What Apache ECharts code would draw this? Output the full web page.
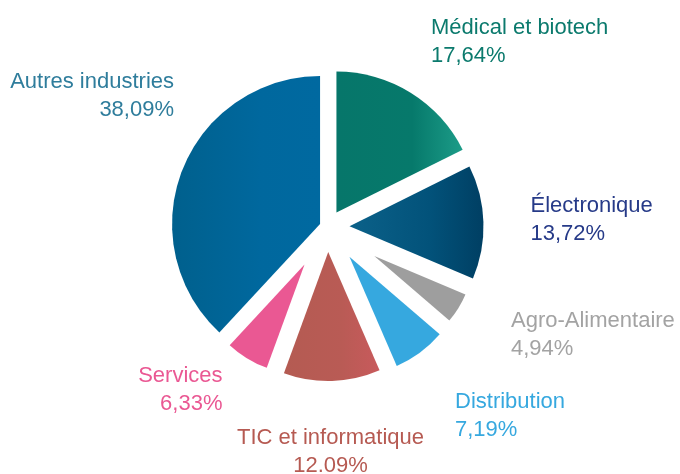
<!DOCTYPE html>
<html>
<head>
<meta charset="utf-8">
<script src="https://cdn.jsdelivr.net/npm/echarts@6/dist/echarts.min.js"></script>
<style>
  html, body { margin: 0; padding: 0; background: #fff; }
  #chart { width: 680px; height: 474px; }
</style>
</head>
<body>
<div id="chart"></div>
<script>
// secteurs, dans le sens horaire depuis midi
const categories = ['Médical et biotech', 'Électronique', 'Agro-Alimentaire', 'Distribution', 'TIC et informatique', 'Services', 'Autres industries']
const shares = [17.64, 13.72, 4.94, 7.19, 12.09, 6.33, 38.09]
const shareLabels = ['17,64%', '13,72%', '4,94%', '7,19%', '12.09%', '6,33%', '38,09%']

// style de chaque part (décalage, rayon, couleurs, place du libellé)
const center = [327.5, 227]
const offsets = [17, 22, 55, 37, 25, 44, 8]
const radii = [141, 134, 99, 119, 129, 110, 148]
const sliceColors = [
  ['#06766a', '#06796b', '#1c9c88'],
  ['#0b6189', '#02527a', '#003f63'],
  ['#9e9e9e', '#9e9e9e', '#9e9e9e'],
  ['#36a8df', '#36a8df', '#36a8df'],
  ['#b45b52', '#b95b55', '#c85a5c'],
  ['#ea5893', '#ea5893', '#ea5893'],
  ['#00608d', '#00689e', '#0069a0']
]
const labelColors = ['#0b7a6d', '#263a88', '#a3a3a3', '#36a8df', '#b65a52', '#ea5893', '#2f7d9c']
const labelPos = [
  { x: 431, y: 41.5, align: 'left' },
  { x: 530.5, y: 220, align: 'left' },
  { x: 511, y: 334.5, align: 'left' },
  { x: 455, y: 415.5, align: 'left' },
  { x: 330.5, y: 451.5, align: 'center' },
  { x: 222.5, y: 389.5, align: 'right' },
  { x: 174, y: 95.5, align: 'right' }
]

const total = shares.reduce((a, b) => a + b, 0)
let cum = 0
const series = shares.map((v, i) => {
  const mid = (cum + v / 2) / total * Math.PI * 2
  cum += v
  const c = sliceColors[i]
  return {
    type: 'pie',
    silent: true,
    animation: false,
    avoidLabelOverlap: false,
    startAngle: 90,
    clockwise: true,
    center: [center[0] + offsets[i] * Math.sin(mid), center[1] - offsets[i] * Math.cos(mid)],
    radius: [0, radii[i]],
    labelLine: { show: false },
    emphasis: { disabled: true },
    labelLayout(params) {
      if (params.dataIndex !== i) return {}
      return { x: labelPos[i].x, y: labelPos[i].y, align: labelPos[i].align, verticalAlign: 'middle' }
    },
    data: shares.map((val, j) => ({
      name: categories[j],
      value: val,
      itemStyle: j === i
        ? {
            borderWidth: 0,
            color: new echarts.graphic.LinearGradient(0, 0, 1, 0, [
              { offset: 0, color: c[0] },
              { offset: 0.6, color: c[1] },
              { offset: 1, color: c[2] }
            ])
          }
        : { color: 'rgba(0,0,0,0)', borderWidth: 0 },
      label: {
        show: j === i,
        formatter: '{b}\n' + shareLabels[j],
        color: labelColors[j],
        fontFamily: 'Liberation Sans',
        fontSize: 22,
        lineHeight: 28,
        align: labelPos[j].align
      }
    }))
  }
})

const myChart = echarts.init(document.getElementById('chart'))
myChart.setOption({ backgroundColor: '#fff', series })
</script>
</body>
</html>
